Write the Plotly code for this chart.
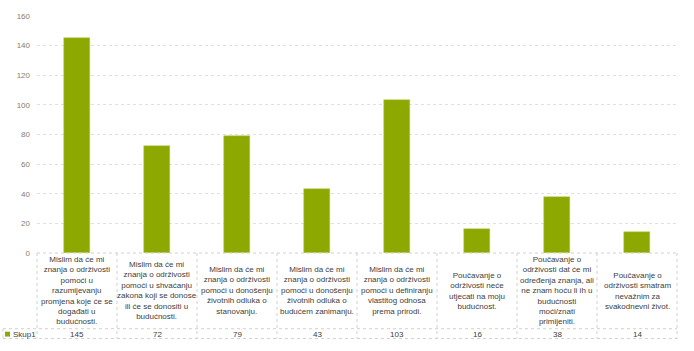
import plotly.graph_objects as go

categories = [
    "Mislim da će mi<br>znanja o održivosti<br>pomoći u<br>razumijevanju<br>promjena koje će se<br>događati u<br>budućnosti.",
    "Mislim da će mi<br>znanja o održivosti<br>pomoći u shvaćanju<br>zakona koji se donose<br>ili će se donositi u<br>budućnosti.",
    "Mislim da će mi<br>znanja o održivosti<br>pomoći u donošenju<br>životnih odluka o<br>stanovanju.",
    "Mislim da će mi<br>znanja o održivosti<br>pomoći u donošenju<br>životnih odluka o<br>budućem zanimanju.",
    "Mislim da će mi<br>znanja o održivosti<br>pomoći u definiranju<br>vlastitog odnosa<br>prema prirodi.",
    "Poučavanje o<br>održivosti neće<br>utjecati na moju<br>budućnost.",
    "Poučavanje o<br>održivosti dat će mi<br>određenja znanja, ali<br>ne znam hoću li ih u<br>budućnosti<br>moći/znati<br>primijeniti.",
    "Poučavanje o<br>održivosti smatram<br>nevažnim za<br>svakodnevni život.",
]
series_name = "Skup1"
values = [145, 72, 79, 43, 103, 16, 38, 14]
y_ticks = [0, 20, 40, 60, 80, 100, 120, 140, 160]

BAR = "#8da800"
GRID = "#e0e0e0"
TXT = "#404040"
TICK = "#8a7b6b"
FONT = "Liberation Sans"

W, H = 694, 351
ml, mr, mt, mb = 37, 17, 12, 98
ph = H - mt - mb
pw = W - ml - mr
n = len(values)


def py(pix):
    return (H - mb - pix) / ph


def pxp(pix):
    return (pix - ml) / pw


def colx(k):
    return k / n


xs = list(range(n))
fig = go.Figure()
fig.add_trace(go.Bar(x=xs, y=values, width=0.33, marker=dict(color=BAR, line=dict(color="#b5c94a", width=0.5)),
                     name=series_name, showlegend=False))

y_top = 0
y_mid = py(330)
y_bot = py(340)
x_left = pxp(3)
shapes = []
dash = dict(color="#d0d0d0", width=1, dash="dot")
shapes.append(dict(type="line", xref="paper", yref="paper", x0=0, x1=1, y0=y_top, y1=y_top, line=dash))
shapes.append(dict(type="line", xref="paper", yref="paper", x0=x_left, x1=1, y0=y_mid, y1=y_mid, line=dash))
shapes.append(dict(type="line", xref="paper", yref="paper", x0=x_left, x1=1, y0=y_bot, y1=y_bot, line=dash))
for k in range(n + 1):
    shapes.append(dict(type="line", xref="paper", yref="paper", x0=colx(k), x1=colx(k), y0=y_top, y1=y_bot, line=dash))
shapes.append(dict(type="line", xref="paper", yref="paper", x0=x_left, x1=x_left, y0=y_mid, y1=y_bot, line=dash))
shapes.append(dict(type="rect", xref="paper", yref="paper", x0=pxp(5), x1=pxp(10), y0=py(338), y1=py(333),
                   fillcolor=BAR, line=dict(width=0)))

annotations = []
for i, (c, v) in enumerate(zip(categories, values)):
    cx = (i + 0.5) / n
    annotations.append(dict(x=cx, y=py(291.5), xref="paper", yref="paper", text=c, showarrow=False,
                            font=dict(family=FONT, size=8, color=TXT), align="center",
                            xanchor="center", yanchor="middle"))
    annotations.append(dict(x=cx, y=py(335.5), xref="paper", yref="paper", text=str(v), showarrow=False,
                            font=dict(family=FONT, size=8, color=TXT), xanchor="center", yanchor="middle"))
annotations.append(dict(x=pxp(11), y=py(335.5), xref="paper", yref="paper", text=series_name, showarrow=False,
                        font=dict(family=FONT, size=8, color=TXT), xanchor="left", yanchor="middle"))

fig.update_layout(
    width=W, height=H, margin=dict(l=ml, r=mr, t=mt, b=mb),
    paper_bgcolor="white", plot_bgcolor="white",
    shapes=shapes, annotations=annotations,
    xaxis=dict(range=[-0.5, n - 0.5], showticklabels=False, showgrid=False, zeroline=False, fixedrange=True),
    yaxis=dict(range=[0, 160], tickvals=y_ticks, showgrid=True, gridcolor=GRID, griddash="dot", zeroline=False,
               tickfont=dict(family=FONT, size=8, color=TICK), ticklabelstandoff=6),
    bargap=0,
)
fig.write_html("out.html")
